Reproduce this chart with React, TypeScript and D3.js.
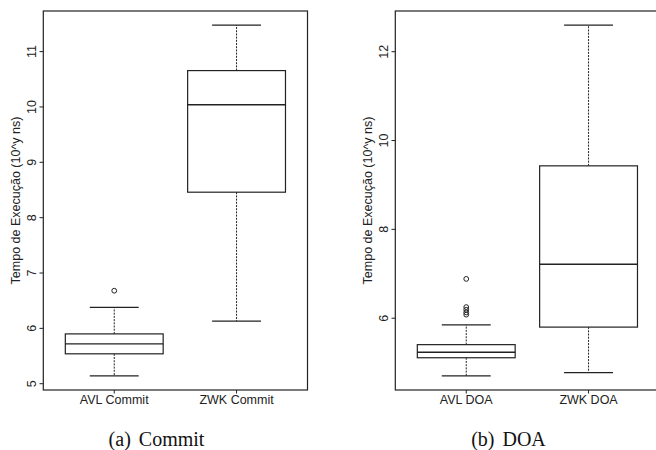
import React from "react";
import * as d3 from "d3";

const commitCategories = ["AVL Commit", "ZWK Commit"];
const commitLow = [5.14, 6.13];
const commitQ1 = [5.54, 8.46];
const commitMedian = [5.72, 10.04];
const commitQ3 = [5.9, 10.657];
const commitHigh = [6.38, 11.48];
const commitOutliers = [[6.68], []];
const commitTicks = [5, 6, 7, 8, 9, 10, 11];

const doaCategories = ["AVL DOA", "ZWK DOA"];
const doaLow = [4.7, 4.775];
const doaQ1 = [5.11, 5.8];
const doaMedian = [5.235, 7.215];
const doaQ3 = [5.405, 9.43];
const doaHigh = [5.85, 12.6];
const doaOutliers = [[6.885, 6.25, 6.19, 6.13, 6.08], []];
const doaTicks = [6, 8, 10, 12];

const yTitle = "Tempo de Execução (10^y ns)";

type PanelProps = {
  left: number;
  categories: string[];
  low: number[];
  q1: number[];
  median: number[];
  q3: number[];
  high: number[];
  outliers: number[][];
  ticks: number[];
  captionLabel: string;
  captionText: string;
};

const INK = "#222";
const SANS = "'Liberation Sans', Arial, Helvetica, sans-serif";
const SERIF = "'Liberation Serif', 'Times New Roman', serif";

function Panel(p: PanelProps) {
  const top = 11;
  const bottom = 390;
  const width = 264.2;
  const right = p.left + width;
  const allVals = [...p.low, ...p.high, ...p.outliers.flat()];
  const mn = d3.min(allVals) as number;
  const mx = d3.max(allVals) as number;
  const ext = (mx - mn) * 0.04;
  const y = d3.scaleLinear().domain([mn - ext, mx + ext]).range([bottom, top]);
  const n = p.categories.length;
  const xExt = (n - 1 + 1) * 0.04;
  const x = d3
    .scaleLinear()
    .domain([0.5 - xExt, n + 0.5 + xExt])
    .range([p.left, right]);
  const cx = (i: number) => x(i + 1);
  const halfBox = x(0.4) - x(0);
  const halfCap = x(0.2) - x(0);

  return (
    <g>
      {p.categories.map((c, i) => (
        <g key={c}>
          <line
            x1={cx(i)}
            x2={cx(i)}
            y1={y(p.q3[i])}
            y2={y(p.high[i])}
            stroke={INK}
            strokeWidth={1}
            strokeDasharray="2,1.2"
          />
          <line
            x1={cx(i)}
            x2={cx(i)}
            y1={y(p.q1[i])}
            y2={y(p.low[i])}
            stroke={INK}
            strokeWidth={1}
            strokeDasharray="2,1.2"
          />
          <line
            x1={cx(i) - halfCap}
            x2={cx(i) + halfCap}
            y1={y(p.high[i])}
            y2={y(p.high[i])}
            stroke={INK}
            strokeWidth={1.2}
          />
          <line
            x1={cx(i) - halfCap}
            x2={cx(i) + halfCap}
            y1={y(p.low[i])}
            y2={y(p.low[i])}
            stroke={INK}
            strokeWidth={1.2}
          />
          <rect
            x={cx(i) - halfBox}
            width={halfBox * 2}
            y={y(p.q3[i])}
            height={y(p.q1[i]) - y(p.q3[i])}
            fill="white"
            stroke={INK}
            strokeWidth={1.2}
          />
          <line
            x1={cx(i) - halfBox}
            x2={cx(i) + halfBox}
            y1={y(p.median[i])}
            y2={y(p.median[i])}
            stroke={INK}
            strokeWidth={1.4}
          />
          {p.outliers[i].map((o, j) => (
            <circle
              key={j}
              cx={cx(i)}
              cy={y(o)}
              r={2.4}
              fill="none"
              stroke={INK}
              strokeWidth={1}
            />
          ))}
          <line
            x1={cx(i)}
            x2={cx(i)}
            y1={bottom}
            y2={bottom + 3.5}
            stroke={INK}
            strokeWidth={1}
          />
          <text
            x={cx(i)}
            y={404}
            textAnchor="middle"
            fontFamily={SANS}
            fontSize={12.5}
            fill={INK}
          >
            {c}
          </text>
        </g>
      ))}
      <rect
        x={p.left}
        y={top}
        width={width}
        height={bottom - top}
        fill="none"
        stroke={INK}
        strokeWidth={1.2}
      />
      {p.ticks.map((t) => (
        <g key={t}>
          <line
            x1={p.left - 3.8}
            x2={p.left}
            y1={y(t)}
            y2={y(t)}
            stroke={INK}
            strokeWidth={1}
          />
          <text
            transform={`translate(${p.left - 7.3},${y(t)}) rotate(-90)`}
            textAnchor="middle"
            fontFamily={SANS}
            fontSize={12.5}
            fill={INK}
          >
            {t}
          </text>
        </g>
      ))}
      <text
        transform={`translate(${p.left - 23.3},${(top + bottom) / 2}) rotate(-90)`}
        textAnchor="middle"
        fontFamily={SANS}
        fontSize={12.5}
        fill={INK}
      >
        {yTitle}
      </text>
      <text
        x={p.left + 113.2}
        y={445.5}
        textAnchor="middle"
        fontFamily={SERIF}
        fontSize={20}
        fill="#111"
      >
        <tspan>{p.captionLabel}</tspan>
        <tspan dx={8}>{p.captionText}</tspan>
      </text>
    </g>
  );
}

export default function App() {
  return (
    <svg
      width={656}
      height={450}
      style={{ position: "absolute", left: 0, top: 0, background: "white" }}
    >
      <rect x={0} y={0} width={656} height={450} fill="white" />
      <Panel
        left={43.3}
        categories={commitCategories}
        low={commitLow}
        q1={commitQ1}
        median={commitMedian}
        q3={commitQ3}
        high={commitHigh}
        outliers={commitOutliers}
        ticks={commitTicks}
        captionLabel="(a)"
        captionText="Commit"
      />
      <Panel
        left={395.3}
        categories={doaCategories}
        low={doaLow}
        q1={doaQ1}
        median={doaMedian}
        q3={doaQ3}
        high={doaHigh}
        outliers={doaOutliers}
        ticks={doaTicks}
        captionLabel="(b)"
        captionText="DOA"
      />
    </svg>
  );
}
